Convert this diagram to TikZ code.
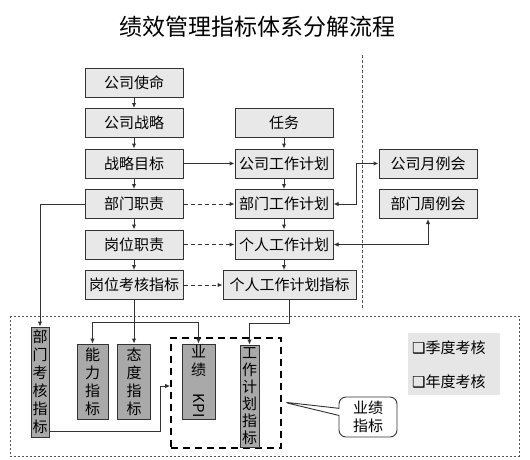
\documentclass[tikz,border=0pt]{standalone}
\usepackage{fontspec}
\usepackage{graphicx}
\usetikzlibrary{arrows.meta, positioning, calc, shapes.callouts}
\newfontfamily\cjk{Noto Sans CJK SC}
\newfontfamily\symfont{DejaVu Sans}
\definecolor{linecol}{HTML}{333333}
\definecolor{boxfill}{HTML}{E8E8E8}
\definecolor{barfill}{HTML}{A9A9A9}
\definecolor{sepcol}{HTML}{555555}
\definecolor{legendfill}{HTML}{E6E6E6}

\begin{document}
\begin{tikzpicture}[x=1pt, y=-1pt,
    every node/.style={font=\cjk\fontsize{15}{18}\selectfont, text=black},
    box/.style={draw=linecol, fill=boxfill, line width=1pt, minimum width=98pt,
        minimum height=29pt, inner sep=0pt},
    bar/.style={draw=linecol, fill=barfill, line width=0.9pt, inner sep=0pt, align=center},
    flow/.style={draw=linecol, line width=1pt, -{Latex[length=5pt, width=4.5pt]}},
    dflow/.style={flow, dash pattern=on 4pt off 3pt},
    bflow/.style={draw=linecol, line width=1pt, {Latex[length=5pt, width=4.5pt]}-{Latex[length=5pt, width=4.5pt]}},
]
\useasboundingbox (0,0) rectangle (530,459);
\def\Row#1{82.5 + #1*40.5}

% ================================================================ title
\node[font=\cjk\fontsize{23}{23}\selectfont] (title) at (257,27) {绩效管理指标体系分解流程};

% ================================================================ left column
\node[box] (mission)  at (134,{\Row{0}}) {公司使命};
\node[box] (strategy) at (134,{\Row{1}}) {公司战略};
\node[box] (goal)     at (134,{\Row{2}}) {战略目标};
\node[box] (deptduty) at (134,{\Row{3}}) {部门职责};
\node[box] (postduty) at (134,{\Row{4}}) {岗位职责};
\node[box] (postkpi)  at (134,{\Row{5}}) {岗位考核指标};

\foreach \a/\b in {mission/strategy, strategy/goal, goal/deptduty, deptduty/postduty, postduty/postkpi}{
    \draw[flow] (\a) -- (\b);
}

% ================================================================ right column
\node[box] (task)  at (284,{\Row{1}}) {任务};
\node[box] (cplan) at (284,{\Row{2}}) {公司工作计划};
\node[box] (dplan) at (284,{\Row{3}}) {部门工作计划};
\node[box] (pplan) at (284,{\Row{4}}) {个人工作计划};
\node[box, minimum width=133pt] (pkpi) at (289.5,{\Row{5}}) {个人工作计划指标};

\foreach \a/\b in {task/cplan, cplan/dplan, dplan/pplan}{
    \draw[flow] (\a) -- (\b);
}
\draw[flow] (pplan.south) -- (pplan.south |- pkpi.north);

\draw[flow]  (goal) -- (cplan);
\draw[dflow] (deptduty) -- (dplan);
\draw[dflow] (postduty) -- (pplan);
\draw[dflow] (postkpi) -- (pkpi);

% the meetings
\draw[sepcol, line width=0.8pt, dash pattern=on 3pt off 2pt] (362,55) -- (362,309);
\node[box] (cmonth) at (428,{\Row{2}}) {公司月例会};
\node[box] (dweek)  at (428,{\Row{3}}) {部门周例会};
\draw[bflow] (dplan.east) -- ++(23,0) |- (cmonth.west);
\draw[bflow] (pplan.east) -| (dweek.south);

% ================================================================ lower: the indicators
\draw[sepcol, line width=0.8pt, dash pattern=on 2pt off 2pt] (10,316) rectangle (519,456);
\node[draw=black, line width=1.6pt, dash pattern=on 7pt off 5pt, minimum width=110pt,
    minimum height=110pt] (perfzone) at (226,393) {};

\node[bar, minimum width=18pt, minimum height=110pt] (deptkpi) at (40,382) {部\\门\\考\\核\\指\\标};
\node[bar, minimum width=31pt, minimum height=75pt] (ability)  at (92.5,381.5) {能\\力\\指\\标};
\node[bar, minimum width=33pt, minimum height=75pt] (attitude) at (134,381.5) {态\\度\\指\\标};
\node[bar, minimum width=33pt, minimum height=75pt] (kpi)      at (198.5,381.5) {业\\绩\\\rotatebox{-90}{KPI}};
\node[bar, minimum width=19pt, minimum height=102pt, font=\cjk\fontsize{15}{17}\selectfont]
    (planidx) at (249.5,396) {工\\作\\计\\划\\指\\标};

\draw[flow] (deptduty.west) -| (deptkpi.north);
\coordinate (fork) at (134,322);
\draw[flow] (postkpi) -- (attitude);
\draw[flow] (fork) -| (ability.north);
\draw[flow] (fork) -| (kpi.north);
\draw[flow] (pkpi.south) -- ++(0,23) -| (planidx.north);

\coordinate (bend) at (160,386);
\draw[flow] ([yshift=6pt]deptkpi.south east) -| (bend) -- (perfzone.west |- bend);

% callout
\node[rectangle callout, draw=linecol, fill=white, line width=0.9pt, rounded corners=7pt,
    minimum width=58pt, minimum height=40pt, inner sep=0pt, align=center,
    callout absolute pointer={(283,402)}] (perfnote) at (368,417) {业绩\\指标};

% legend
\node[fill=legendfill, minimum width=92pt, minimum height=62pt] (legend) at (454,364) {};
\node[anchor=west, inner sep=0pt] (season) at (412,348) {{\symfont\fontsize{15}{15}\selectfont ❑}季度考核};
\node[anchor=west, inner sep=0pt] (annual) at (412,382) {{\symfont\fontsize{15}{15}\selectfont ❑}年度考核};
\end{tikzpicture}
\end{document}
